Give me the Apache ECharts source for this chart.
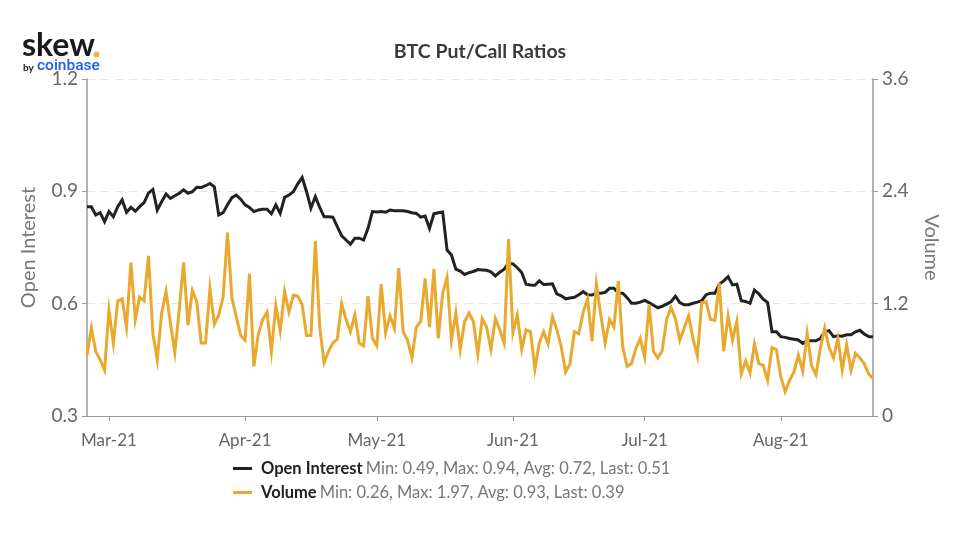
<!DOCTYPE html>
<html>
<head>
<meta charset="utf-8">
<style>html,body{margin:0;background:#fff}#chart{width:960px;height:536px}</style>
<script src="https://cdn.jsdelivr.net/npm/echarts@6/dist/echarts.min.js"></script>
</head>
<body>
<div id="chart"></div>
<script>
var startDay = '2021-02-24';
var monthTicks = {'2021-03-01':'Mar-21','2021-04-01':'Apr-21','2021-05-01':'May-21','2021-06-01':'Jun-21','2021-07-01':'Jul-21','2021-08-01':'Aug-21'};
var leftTicks = [0.3, 0.6, 0.9, 1.2];
var rightTicks = [0, 1.2, 2.4, 3.6];

var openInterest = [
  .859,.859,.837,.843,.819,.846,.832,.859,.877,.844,.857,.847,.859,.870,.895,.905,.850,.872,.893,.881,
  .888,.895,.904,.895,.899,.911,.910,.915,.921,.912,.837,.843,.864,.883,.890,.879,.864,.857,.846,.850,
  .852,.852,.840,.864,.841,.884,.890,.899,.920,.937,.899,.855,.886,.857,.832,.832,.831,.806,.781,.770,
  .759,.775,.775,.770,.801,.846,.845,.846,.844,.850,.848,.848,.848,.846,.843,.841,.831,.834,.801,.840,
  .843,.845,.743,.730,.692,.687,.678,.683,.686,.691,.690,.689,.685,.674,.684,.692,.708,.706,.696,.683,
  .652,.650,.649,.661,.651,.652,.653,.626,.621,.613,.615,.617,.624,.632,.624,.623,.628,.628,.630,.641,
  .641,.628,.628,.616,.601,.601,.604,.609,.603,.596,.589,.593,.599,.605,.620,.603,.597,.597,.601,.604,
  .608,.624,.628,.628,.652,.661,.672,.650,.652,.608,.606,.601,.636,.626,.612,.603,.525,.525,.512,.510,
  .507,.505,.503,.494,.501,.501,.501,.507,.525,.528,.512,.514,.513,.517,.517,.525,.529,.519,.512,.511
];
var volume = [
  .65,.94,.69,.60,.49,1.13,.78,1.23,1.25,.95,1.64,1.03,1.27,1.23,1.71,.88,.60,1.10,1.33,.99,
  .68,1.13,1.64,.97,1.34,1.22,.78,.78,1.36,.98,1.08,1.27,1.96,1.26,1.06,.86,.81,1.52,.53,.87,
  1.03,1.11,.69,1.18,.91,1.33,1.11,1.29,1.28,1.19,.86,.86,1.87,.95,.57,.69,.78,.82,1.20,1.03,
  .90,1.08,.78,.75,1.28,.83,.75,1.41,.89,1.07,.94,1.58,.90,.81,.62,.95,1.01,1.47,.95,1.57,
  .83,1.31,1.48,.81,1.10,.71,1.01,1.10,1.01,.66,1.04,.95,.71,1.04,.92,.78,1.89,.89,1.08,.71,
  .92,.90,.50,.78,.90,.77,1.06,.92,.74,.47,.56,.90,.88,1.11,1.25,.80,1.41,1.08,.78,1.03,
  .95,1.44,.74,.53,.56,.72,.83,.63,1.19,.69,.62,.70,1.03,1.16,1.04,.81,.94,1.07,.83,.64,
  1.21,1.22,1.03,1.02,1.42,.69,1.07,.81,1.01,.45,.59,.46,.77,.56,.54,.38,.73,.71,.42,.26,
  .38,.47,.65,.48,.88,.54,.44,.72,.94,.73,.62,.83,.49,.76,.49,.67,.62,.56,.45,.40
];

// one category per day, the axis labels only the first of each month
var days = [];
var d = new Date(startDay + 'T00:00:00Z');
for (var i = 0; i < openInterest.length; i++) {
  days.push(d.toISOString().slice(0, 10));
  d.setUTCDate(d.getUTCDate() + 1);
}
function isMonthTick(index, value) {
  return monthTicks[value] !== undefined;
}

var font = 'Lato';
var axisGrey = '#9a9a9a';
var labelGrey = '#666';
var legendStats = {
  'Open Interest': 'Min: 0.49, Max: 0.94, Avg: 0.72, Last: 0.51',
  'Volume': 'Min: 0.26, Max: 1.97, Avg: 0.93, Last: 0.39'
};

var chart = echarts.init(document.getElementById('chart'), null, {renderer: 'canvas'});
chart.setOption({
  animation: false,
  backgroundColor: '#fff',
  textStyle: {fontFamily: font},
  title: {
    text: 'BTC Put/Call Ratios',
    left: 'center', top: 37,
    textStyle: {fontFamily: font, fontSize: 19.5, fontWeight: 'bold', color: '#3a3a3a'}
  },
  grid: {left: 87, right: 87, top: 79, bottom: 120},
  legend: {
    orient: 'vertical',
    left: 228, top: 455,
    itemGap: 7,
    itemWidth: 19, itemHeight: 3,
    icon: 'rect',
    data: ['Open Interest', 'Volume'],
    formatter: function (name) {
      return '{b|' + name + '} {s|' + legendStats[name] + '}';
    },
    textStyle: {
      rich: {
        b: {fontFamily: font, fontSize: 16.5, fontWeight: 'bold', color: '#222', height: 20, padding: [0, 0, 0, 4]},
        s: {fontFamily: font, fontSize: 16.5, color: '#777', height: 20}
      }
    }
  },
  xAxis: {
    type: 'category',
    data: days,
    boundaryGap: false,
    axisLine: {lineStyle: {color: axisGrey, width: 1}},
    axisTick: {interval: isMonthTick, length: 5, lineStyle: {color: axisGrey}},
    axisLabel: {
      interval: isMonthTick,
      margin: 16,
      fontFamily: font, fontSize: 17, color: labelGrey,
      formatter: function (value) { return monthTicks[value]; }
    },
    splitLine: {show: false}
  },
  yAxis: [{
    type: 'value',
    min: leftTicks[0], max: leftTicks[3], interval: 0.3,
    name: 'Open Interest',
    nameLocation: 'middle', nameGap: 48, nameRotate: 90,
    nameTextStyle: {fontFamily: font, fontSize: 20, color: '#777'},
    axisLine: {show: true, lineStyle: {color: axisGrey, width: 1.5}},
    axisTick: {show: true, length: 5, lineStyle: {color: axisGrey}},
    axisLabel: {margin: 9, fontFamily: font, fontSize: 19, color: labelGrey, formatter: function (v) { return v.toFixed(1); }},
    splitLine: {show: true, lineStyle: {color: '#e6e6e6', type: [8, 6], width: 1}}
  }, {
    type: 'value',
    min: rightTicks[0], max: rightTicks[3], interval: 1.2,
    name: 'Volume',
    nameLocation: 'middle', nameGap: 48, nameRotate: -90,
    nameTextStyle: {fontFamily: font, fontSize: 20, color: '#777'},
    axisLine: {show: true, lineStyle: {color: axisGrey, width: 1.5}},
    axisTick: {show: true, length: 5, lineStyle: {color: axisGrey}},
    axisLabel: {margin: 9, fontFamily: font, fontSize: 19, color: labelGrey, formatter: function (v) { return v === 0 ? '0' : v.toFixed(1); }},
    splitLine: {show: false}
  }],
  series: [{
    name: 'Open Interest',
    type: 'line',
    yAxisIndex: 0,
    data: openInterest,
    showSymbol: false,
    lineStyle: {color: '#222', width: 3, join: 'miter'},
    itemStyle: {color: '#222'}
  }, {
    name: 'Volume',
    type: 'line',
    yAxisIndex: 1,
    data: volume,
    showSymbol: false,
    lineStyle: {color: '#E8A92E', width: 3, join: 'miter'},
    itemStyle: {color: '#E8A92E'}
  }],
  graphic: [
    {type: 'text', left: 22, top: 30, style: {text: 'skew', fontFamily: font, fontSize: 32, fontWeight: 'bold', fill: '#1a1a1a'}},
    {type: 'circle', shape: {cx: 96.5, cy: 54.5, r: 3}, style: {fill: '#EBB44F'}},
    {type: 'text', left: 23, top: 63, style: {text: 'by', fontFamily: font, fontSize: 10, fontWeight: 'bold', fill: '#222'}},
    {type: 'text', left: 37, top: 58, style: {text: 'coinbase', fontFamily: 'Roboto', fontSize: 15.5, fontWeight: 500, fill: '#1E5BF0'}}
  ]
});
</script>
</body>
</html>
